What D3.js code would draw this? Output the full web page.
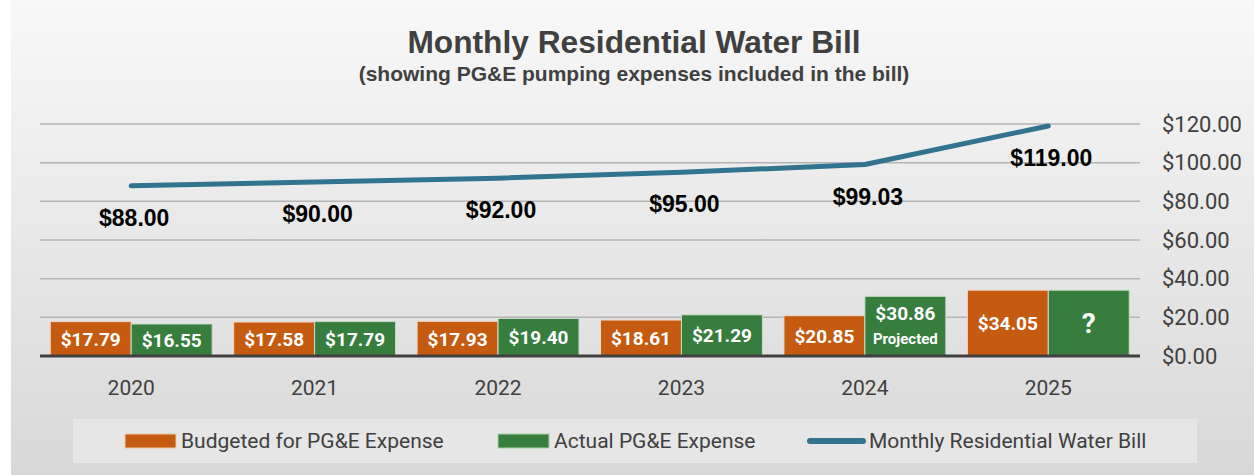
<!DOCTYPE html>
<html lang="en">
<head>
    <meta charset="UTF-8">
    <title>Monthly Residential Water Bill</title>
    <style>
        *{
            margin: 0;
            padding: 0;
        }
        html, body{
            width: 100%;
            height: 100%;
            background: #ffffff;
        }
        #myChart text{
            font-family: Roboto, "Liberation Sans", sans-serif;
        }
    </style>
</head>
<body>
<div id="myChart"></div>
<script src="https://cdn.jsdelivr.net/npm/d3@7"></script>
<script>
    var years = ["2020", "2021", "2022", "2023", "2024", "2025"];
    var budgeted = [17.79, 17.58, 17.93, 18.61, 20.85, 34.05];
    var actual = [16.55, 17.79, 19.40, 21.29, 30.86, 34.05];
    var actualLabels = ["$16.55", "$17.79", "$19.40", "$21.29", "$30.86", "?"];
    var actualNotes = ["", "", "", "", "Projected", ""];
    var waterBill = [88.00, 90.00, 92.00, 95.00, 99.03, 119.00];
    var yTicks = [0, 20, 40, 60, 80, 100, 120];
    var legendNames = ["Budgeted for PG&E Expense", "Actual PG&E Expense", "Monthly Residential Water Bill"];

    var W = 1254, H = 475;
    var colOrange = "#c55a11", colGreen = "#367d3e", colLine = "#327490";

    var svg = d3.select("#myChart").append("svg")
        .attr("width", W).attr("height", H);

    /*背景渐变*/
    var grad = svg.append("defs").append("linearGradient")
        .attr("id", "bg").attr("x1", 0).attr("y1", 0).attr("x2", 0).attr("y2", 1);
    grad.append("stop").attr("offset", "0%").attr("stop-color", "#f8f8f8");
    grad.append("stop").attr("offset", "100%").attr("stop-color", "#d8d8d8");
    svg.append("rect").attr("x", 11).attr("y", 0).attr("width", W - 11).attr("height", H)
        .attr("fill", "url(#bg)");

    /*标题*/
    svg.append("text").attr("x", 634).attr("y", 53)
        .attr("text-anchor", "middle")
        .style("font-family", "'Liberation Sans', Arial, sans-serif")
        .style("font-weight", "bold").style("font-size", "31.7px")
        .style("fill", "#404040")
        .text("Monthly Residential Water Bill");
    svg.append("text").attr("x", 634).attr("y", 81)
        .attr("text-anchor", "middle")
        .style("font-family", "'Liberation Sans', Arial, sans-serif")
        .style("font-weight", "bold").style("font-size", "21px")
        .style("fill", "#404040")
        .text("(showing PG&E pumping expenses included in the bill)");

    /*比例尺*/
    var x0 = d3.scaleBand().domain(years).range([39.5, 1140]);
    var x1 = d3.scaleBand().domain(["b", "a"]).range([0, x0.bandwidth()]).paddingOuter(0.133);
    var y = d3.scaleLinear().domain([0, 120]).range([356, 124]);

    /*网格线*/
    var yAxis = d3.axisRight(y).tickValues(yTicks)
        .tickSize(0)
        .tickFormat(function (d) { return "$" + d3.format(".2f")(d); });
    svg.append("g")
        .selectAll("line")
        .data(yTicks.filter(function (d) { return d > 0; }))
        .enter().append("line")
        .attr("x1", 40).attr("x2", 1140)
        .attr("y1", function (d) { return y(d); })
        .attr("y2", function (d) { return y(d); })
        .attr("stroke", "#b4b4b4").attr("stroke-width", 1.5);

    var gy = svg.append("g").attr("transform", "translate(1162,0)").call(yAxis);
    gy.select(".domain").remove();
    gy.selectAll("text")
        .attr("x", 0)
        .style("font-size", "22px").style("fill", "#404040");

    /*柱子*/
    var groups = svg.append("g").selectAll("g")
        .data(years).enter().append("g")
        .attr("transform", function (d) { return "translate(" + x0(d) + ",0)"; });

    groups.append("rect")
        .attr("x", x1("b")).attr("width", x1.bandwidth())
        .attr("y", function (d, i) { return y(budgeted[i]); })
        .attr("height", function (d, i) { return y(0) - y(budgeted[i]); })
        .attr("fill", colOrange).attr("stroke", "#f0d8c8").attr("stroke-width", 1);
    groups.append("rect")
        .attr("x", x1("a")).attr("width", x1.bandwidth())
        .attr("y", function (d, i) { return y(actual[i]); })
        .attr("height", function (d, i) { return y(0) - y(actual[i]); })
        .attr("fill", colGreen).attr("stroke", "#c8dcc8").attr("stroke-width", 1);

    /*柱内数值*/
    groups.append("text")
        .attr("x", x1("b") + x1.bandwidth() / 2)
        .attr("y", function (d, i) { return (y(budgeted[i]) + y(0)) / 2; })
        .attr("dy", "0.36em")
        .attr("text-anchor", "middle")
        .style("font-weight", "bold").style("font-size", "19px").style("fill", "#fff")
        .text(function (d, i) { return "$" + budgeted[i].toFixed(2); });

    groups.append("text")
        .attr("x", x1("a") + x1.bandwidth() / 2)
        .attr("y", function (d, i) {
            var mid = (y(actual[i]) + y(0)) / 2;
            return actualNotes[i] ? mid - 13 : mid;
        })
        .attr("dy", "0.36em")
        .attr("text-anchor", "middle")
        .style("font-weight", "bold")
        .style("font-size", function (d, i) { return actualLabels[i] === "?" ? "28px" : "19px"; })
        .style("fill", "#fff")
        .text(function (d, i) { return actualLabels[i]; });

    groups.append("text")
        .attr("x", x1("a") + x1.bandwidth() / 2)
        .attr("y", function (d, i) { return (y(actual[i]) + y(0)) / 2 + 12; })
        .attr("dy", "0.36em")
        .attr("text-anchor", "middle")
        .style("font-weight", "bold").style("font-size", "15px").style("fill", "#fff")
        .text(function (d, i) { return actualNotes[i]; });

    /*基线*/
    svg.append("line")
        .attr("x1", 40).attr("x2", 1140)
        .attr("y1", y(0)).attr("y2", y(0))
        .attr("stroke", "#404040").attr("stroke-width", 3);

    /*x轴*/
    var gx = svg.append("g").attr("transform", "translate(0," + 379 + ")")
        .call(d3.axisBottom(x0).tickSize(0));
    gx.select(".domain").remove();
    gx.selectAll("text")
        .attr("y", 0).attr("dy", "0.76em")
        .style("font-size", "21px").style("fill", "#404040");

    /*折线*/
    var cx = function (i) { return x0(years[i]) + x0.bandwidth() / 2; };
    var line = d3.line()
        .x(function (d, i) { return cx(i); })
        .y(function (d) { return y(d); });
    svg.append("path")
        .datum(waterBill)
        .attr("d", line)
        .attr("fill", "none")
        .attr("stroke", colLine).attr("stroke-width", 5)
        .attr("stroke-linecap", "round").attr("stroke-linejoin", "round");

    svg.append("g").selectAll("text")
        .data(waterBill).enter().append("text")
        .attr("x", function (d, i) { return cx(i) + 3; })
        .attr("y", function (d) { return y(d) + 40; })
        .attr("text-anchor", "middle")
        .style("font-family", "'Liberation Sans', Arial, sans-serif")
        .style("font-weight", "bold").style("font-size", "23px").style("fill", "#000")
        .text(function (d) { return "$" + d.toFixed(2); });

    /*图例*/
    var lg = svg.append("g");
    lg.append("rect").attr("x", 73).attr("y", 419).attr("width", 1124).attr("height", 44)
        .attr("fill", "#e6e6e6");
    var legendX = [125, 498, 807];
    var legendColors = [colOrange, colGreen, colLine];
    legendNames.forEach(function (name, i) {
        if (i < 2) {
            lg.append("rect").attr("x", legendX[i]).attr("y", 434)
                .attr("width", 51).attr("height", 14)
                .attr("fill", legendColors[i])
                .attr("stroke", i === 0 ? "#f0c8a8" : "#a8d0a8").attr("stroke-width", 1);
        } else {
            lg.append("line").attr("x1", legendX[i] + 3).attr("x2", legendX[i] + 56)
                .attr("y1", 441).attr("y2", 441)
                .attr("stroke", legendColors[i]).attr("stroke-width", 6)
                .attr("stroke-linecap", "round");
        }
        lg.append("text")
            .attr("x", legendX[i] + (i < 2 ? 56 : 62)).attr("y", 448)
            .style("font-size", "21px").style("fill", "#404040")
            .text(name);
    });
</script>
</body>
</html>
